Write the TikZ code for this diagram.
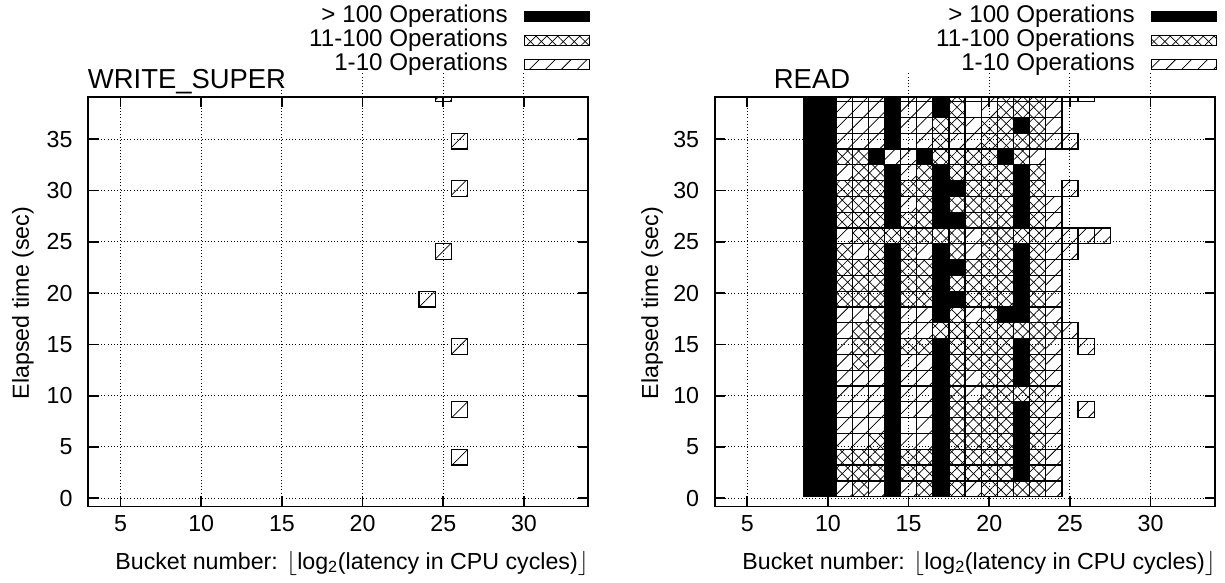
\documentclass[tikz,border=0pt]{standalone}
\usepackage{fontspec}
\setmainfont{Liberation Sans}
\usetikzlibrary{patterns.meta}

\begin{document}
\begin{tikzpicture}[
    x=0.025cm, y=0.025cm,
    font=\fontsize{16.5}{19}\selectfont,
    frame/.style = {line width=1.4pt},
    grid/.style = {line width=0.7pt, dash pattern=on 0.7pt off 1.6pt},
    tick/.style = {line width=1.2pt},
    cK/.style = {draw=black, line width=0.9pt, fill=black},
    cX/.style = {draw=black, line width=0.9pt,
                 pattern={Lines[angle=45, distance=5.5pt, line width=0.5pt]},
                 postaction={pattern={Lines[angle=-45, distance=5.5pt, line width=0.5pt]}}},
    cD/.style = {draw=black, line width=0.9pt,
                 pattern={Lines[angle=45, distance=8pt, line width=0.55pt]}},
    cE/.style = {draw=black, line width=0.9pt},
    cN/.style = {},
    ytick/.style = {anchor=east, inner sep=0pt, xshift=-0.39cm},
    xtick/.style = {anchor=north, inner sep=0pt, yshift=-0.22cm},
    title/.style = {anchor=base, inner sep=0pt, font=\fontsize{19.5}{23}\selectfont},
    keytext/.style = {anchor=east, inner sep=0pt, font=\fontsize{17.2}{20}\selectfont},
    keybox/.style = {anchor=west, inner sep=0pt, minimum width=1.625cm,
                     minimum height=0.24cm, draw=black, line width=0.9pt},
]
\useasboundingbox (0,0) rectangle (1225,583);

% WRITE_SUPER panel
\begin{scope}[shift={(39.91,84.7)}, x=0.40325cm, y=0.2565cm]
  \foreach \t in {0,5,...,35} \draw[grid] (3,\t) -- (34,\t);
  \foreach \b in {5,10,...,30} \draw[grid] (\b,-0.8) -- (\b,39.1);
  \foreach \b in {15,20,25,30} \draw[grid] (\b,39.1) -- (\b,41.5);
  \begin{scope}
    \clip (3,-0.8) rectangle (34,39.1);
    \foreach \bi/\ri in {25/25, 26/22, 26/19, 25/15, 24/12, 26/9, 26/5, 26/2}
      \path[cD] (\bi-0.5,0.156+\ri*1.54) rectangle ++(1,1.54);
  \end{scope}
  \draw[frame] (3,-0.8) rectangle (34,39.1);
  \foreach \t in {0,5,...,35} {
    \draw[tick] (3,\t) -- ++(0.26cm,0);
    \draw[tick] (34,\t) -- ++(-0.26cm,0);
    \node[ytick] (wy\t) at (3,\t) {\t};
  }
  \foreach \b in {5,10,...,30} {
    \draw[tick] (\b,-0.8) -- ++(0,0.26cm);
    \draw[tick] (\b,39.1) -- ++(0,-0.26cm);
    \node[xtick] (wx\b) at (\b,-0.8) {\b};
  }
\end{scope}

% READ panel
\begin{scope}[shift={(666.6,84.7)}, x=0.40325cm, y=0.2565cm]
  \foreach \t in {0,5,...,35} \draw[grid] (3,\t) -- (34,\t);
  \foreach \b in {5,10,...,30} \draw[grid] (\b,-0.8) -- (\b,39.1);
  \foreach \b in {15,20,25,30} \draw[grid] (\b,39.1) -- (\b,41.5);
  \begin{scope}
    \clip (3,-0.8) rectangle (34,39.1);
    % buckets 9..27, one line per time slot (bottom first)
    \foreach \rowdata [count=\ri from 0] in {
      {K,K,D,X,D,K,D,X,K,X,D,X,X,X,X,D,N,N,N},
      {K,K,X,X,X,K,X,X,K,X,X,X,X,K,X,D,N,N,N},
      {K,K,X,X,X,K,X,X,K,X,X,X,X,K,X,D,N,N,N},
      {K,K,D,D,X,K,D,D,K,X,X,X,X,K,X,D,N,N,N},
      {K,K,D,D,D,K,E,D,K,X,X,X,X,K,X,D,N,N,N},
      {K,K,D,D,D,K,D,D,K,X,X,X,X,K,X,D,N,D,N},
      {K,K,D,D,D,K,D,D,K,X,D,X,X,X,X,D,N,N,N},
      {K,K,D,D,D,K,D,D,K,X,D,X,X,K,X,D,N,N,N},
      {K,K,D,X,D,K,D,D,K,X,X,X,X,K,X,D,N,N,N},
      {K,K,D,X,X,K,X,X,K,X,X,X,X,K,X,D,N,D,N},
      {K,K,D,X,X,K,D,D,X,X,X,X,X,X,X,X,D,N,N},
      {K,K,D,D,X,K,D,D,K,X,D,X,K,K,X,D,N,N,N},
      {K,K,X,X,X,K,X,X,K,K,X,X,X,K,X,D,N,N,N},
      {K,K,X,X,X,K,X,X,K,X,X,X,X,K,X,D,N,N,N},
      {K,K,X,X,X,K,X,X,K,K,X,X,X,K,X,D,N,N,N},
      {K,K,X,D,X,K,X,D,K,X,D,X,X,K,X,D,D,N,N},
      {K,K,D,X,X,X,X,X,X,X,D,X,X,X,X,D,D,D,D},
      {K,K,X,X,X,K,X,X,K,K,X,X,X,K,X,D,N,N,N},
      {K,K,X,X,X,K,D,X,K,X,X,X,X,K,X,D,N,N,N},
      {K,K,X,X,X,K,X,X,K,K,X,X,X,K,X,N,D,N,N},
      {K,K,D,X,X,K,D,X,K,X,X,X,X,K,X,N,N,N,N},
      {K,K,X,X,K,D,D,K,X,X,X,X,K,X,D,N,N,N,N},
      {K,K,D,D,D,K,E,D,X,D,D,X,X,X,X,D,D,N,N},
      {K,K,D,D,D,K,D,D,X,X,D,X,X,K,X,D,N,N,N},
      {K,K,D,D,D,K,D,D,K,X,E,D,X,X,X,D,N,N,N},
      {K,K,D,D,D,K,D,D,K,X,E,D,X,X,X,D,E,E,N}%
    }{
      \foreach \k [count=\bi from 9] in \rowdata
        \path[c\k] (\bi-0.5,0.156+\ri*1.54) rectangle ++(1,1.54);
    }
  \end{scope}
  \draw[frame] (3,-0.8) rectangle (34,39.1);
  \foreach \t in {0,5,...,35} {
    \draw[tick] (3,\t) -- ++(0.26cm,0);
    \draw[tick] (34,\t) -- ++(-0.26cm,0);
    \node[ytick] (ry\t) at (3,\t) {\t};
  }
  \foreach \b in {5,10,...,30} {
    \draw[tick] (\b,-0.8) -- ++(0,0.26cm);
    \draw[tick] (\b,39.1) -- ++(0,-0.26cm);
    \node[xtick] (rx\b) at (\b,-0.8) {\b};
  }
\end{scope}

% Titles and axis labels
\node[title] (wtitle) at (187,494) {WRITE\_SUPER};
\node[title] (rtitle) at (812,494) {READ};
\node (wxlabel) at (352,20) {Bucket number: $\lfloor$log\textsubscript{2}(latency in CPU cycles)$\rfloor$};
\node (rxlabel) at (979,20) {Bucket number: $\lfloor$log\textsubscript{2}(latency in CPU cycles)$\rfloor$};
\node[rotate=90] (wylabel) at (23,280) {Elapsed time (sec)};
\node[rotate=90] (rylabel) at (652,280) {Elapsed time (sec)};

% Keys
\node[keytext] (wk1) at (508,566.5) {> 100 Operations};
\node[keytext] (wk2) at (508,542.5) {11-100 Operations};
\node[keytext] (wk3) at (508,518.5) {1-10 Operations};
\node[keybox, fill=black] (wb1) at (524,566.5) {};
\node[keybox, cX] (wb2) at (524,542.5) {};
\node[keybox, cD] (wb3) at (524,518.5) {};
\node[keytext] (rk1) at (1135,566.5) {> 100 Operations};
\node[keytext] (rk2) at (1135,542.5) {11-100 Operations};
\node[keytext] (rk3) at (1135,518.5) {1-10 Operations};
\node[keybox, fill=black] (rb1) at (1151,566.5) {};
\node[keybox, cX] (rb2) at (1151,542.5) {};
\node[keybox, cD] (rb3) at (1151,518.5) {};

\end{tikzpicture}
\end{document}
